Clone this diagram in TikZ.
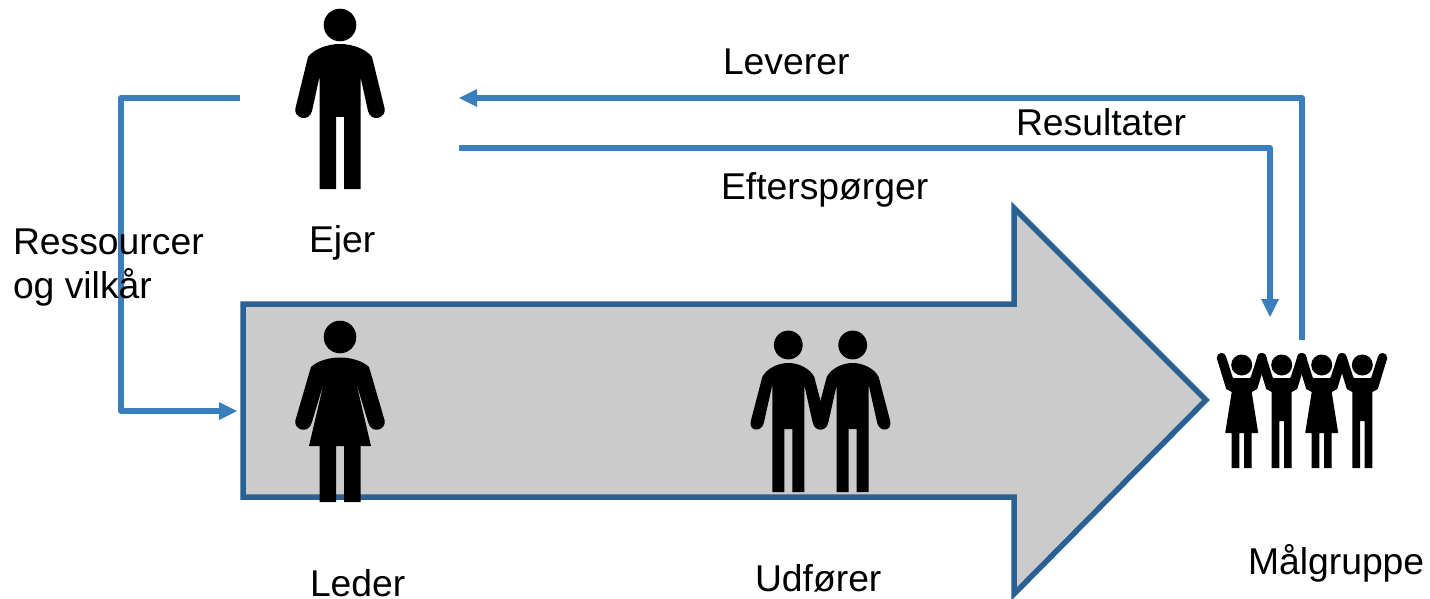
\documentclass[tikz,border=0pt]{standalone}
\usepackage{fontspec}
\setmainfont{Liberation Sans}
\definecolor{linkblue}{HTML}{3A7FBD}
\definecolor{edgeblue}{HTML}{2A6092}
\definecolor{bodygrey}{HTML}{CBCBCB}
\tikzset{
  x=1pt,y=-1pt,
  figure/.style={fill=black,draw=none},
  link/.style={draw=linkblue,line width=6pt,line join=round},
  linkhead/.style={fill=linkblue,draw=none},
  label/.style={anchor=base west,inner sep=0pt,outer sep=0pt,font=\fontsize{37.3}{37.3}\selectfont,text=black},
  pics/bigman/.style={code={
    \fill[figure] (0,0) circle (16.3);
    \fill[figure] (-32,32) .. controls (-27,25) and (-14,19) .. (0,19) .. controls (14,19) and (27,25) .. (32,32)
      -- (44.5,83) .. controls (47,93) and (31,98) .. (28,86) -- (20.5,52) -- (20.5,164) -- (4,164) -- (4,92) -- (-4,92) -- (-4,164) -- (-20.5,164) -- (-20.5,52) -- (-28,86)
      .. controls (-31,98) and (-47,93) .. (-44.5,83) -- cycle;
  }},
  pics/bigwoman/.style={code={
    \fill[figure] (0,0) circle (16.3);
    \fill[figure] (-29,30) .. controls (-24,25) and (-13,20.5) .. (0,20.5) .. controls (13,20.5) and (24,25) .. (29,30)
      -- (44.5,83) .. controls (47,93) and (31,98) .. (28,85) -- (16,45) -- (31,109) -- (20.5,109) -- (20.5,165) -- (4,165) -- (4,109) -- (-4,109) -- (-4,165) -- (-20.5,165) -- (-20.5,109) -- (-31,109) -- (-16,45) -- (-28,85)
      .. controls (-31,98) and (-47,93) .. (-44.5,83) -- cycle;
  }},
  pics/midman/.style={code={
    \fill[figure] (0,0) circle (14.4);
    \fill[figure] (-26,32) .. controls (-22,24) and (-11,18) .. (0,18) .. controls (11,18) and (22,24) .. (26,32)
      -- (37.5,76) .. controls (40,86) and (27,88) .. (24.5,78) -- (16,40) -- (16,147) -- (4,147) -- (4,84) -- (-4,84) -- (-4,147) -- (-16,147) -- (-16,40) -- (-24.5,78)
      .. controls (-27,88) and (-40,86) .. (-37.5,76) -- cycle;
  }},
  pics/smallwoman/.style={code={
    \fill[figure] (0,0) circle (10.5);
    \fill[figure] (-25,-7) .. controls (-25,-13) and (-16.5,-14) .. (-15.5,-8) -- (-9,12.3) -- (-8,13) -- (8,13) -- (9,12.3) -- (15.5,-8)
      .. controls (16.5,-14) and (25,-13) .. (25,-7) -- (15.5,24) -- (10,27) -- (16.5,68) -- (10,68) -- (10,103) -- (2.3,103) -- (2.3,68) -- (-2.3,68) -- (-2.3,103) -- (-10,103) -- (-10,68) -- (-16.5,68) -- (-10,27) -- (-15.5,24) -- cycle;
  }},
  pics/smallman/.style={code={
    \fill[figure] (0,0) circle (10.5);
    \fill[figure] (-25,-7) .. controls (-25,-13) and (-16.5,-14) .. (-15.5,-8) -- (-9,12.3) -- (-8,13) -- (8,13) -- (9,12.3) -- (15.5,-8)
      .. controls (16.5,-14) and (25,-13) .. (25,-7) -- (15.5,24) -- (10,27) -- (10,103) -- (2.3,103) -- (2.3,56) -- (-2.3,56) -- (-2.3,103) -- (-10,103) -- (-10,27) -- (-15.5,24) -- cycle;
  }},
}
\begin{document}
\begin{tikzpicture}
\useasboundingbox (0,0) rectangle (1430,599);
% big arrow
\draw[fill=bodygrey,draw=edgeblue,line width=5.5pt,miter limit=10]
  (243,304) -- (1014,304) -- (1014,208) -- (1206,400) -- (1014,594) -- (1014,497) -- (243,497) -- cycle;
% connector anchors
\coordinate (ownerL) at (240,98);
\coordinate (elbowA) at (121,98);
\coordinate (elbowB) at (121,411);
\coordinate (leaderIn) at (220,411);
\coordinate (leaderTip) at (237,411);
\coordinate (groupOut) at (1302,340);
\coordinate (elbowC) at (1302,98);
\coordinate (ownerInB) at (476,98);
\coordinate (ownerInTip) at (459,98);
\coordinate (ownerOut) at (459,148);
\coordinate (elbowD) at (1270,148);
\coordinate (groupIn) at (1270,300);
\coordinate (groupTip) at (1270,317);
% connectors
\draw[link] (ownerL) -- (elbowA) -- (elbowB) -- (leaderIn);
\fill[linkhead] (leaderTip) -- ++(-18,-9) -- ++(0,18) -- cycle;
\draw[link] (groupOut) -- (elbowC) -- (ownerInB);
\fill[linkhead] (ownerInTip) -- ++(18,-9) -- ++(0,18) -- cycle;
\draw[link] (ownerOut) -- (elbowD) -- (groupIn);
\fill[linkhead] (groupTip) -- ++(-9,-18) -- ++(18,0) -- cycle;
% figures
\pic at (340,25) {bigman};
\pic at (340,337) {bigwoman};
\pic at (788.3,345) {midman};
\pic at (852.7,345) {midman};
\pic at (1241.7,365) {smallwoman};
\pic at (1281.7,365) {smallman};
\pic at (1321.7,365) {smallwoman};
\pic at (1362.3,365) {smallman};
% labels
\node[label] (leverer) at (723,75) {Leverer};
\node[label] (resultater) at (1016,136) {Resultater};
\node[label] (efter) at (721,199) {Efterspørger};
\node[label] (ejer) at (309,252) {Ejer};
\node[label] (res) at (13,254) {Ressourcer};
\node[label] (vilkaar) at (13,298) {og vilkår};
\node[label] (leder) at (310,596) {Leder};
\node[label] (udfoerer) at (755,591) {Udfører};
\node[label] (maal) at (1248,574) {Målgruppe};
\end{tikzpicture}
\end{document}
